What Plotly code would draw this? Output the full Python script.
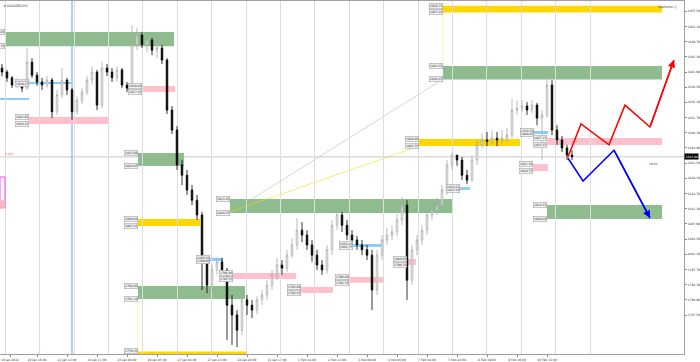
import plotly.graph_objects as go

# ---------------- data ----------------
bar_index = list(range(115))
open_ = [1842.8,1841.9,1840.6,1839.0,1839.7,1838.3,1844.1,1841.2,1839.7,1839.0,
         1840.1,1833.0,1836.8,1840.1,1837.9,1833.0,1835.6,1837.4,1840.1,1841.9,
         1834.5,1842.8,1841.9,1840.6,1842.4,1839.0,1838.3,1848.0,1850.2,1848.0,
         1849.1,1846.8,1847.3,1844.6,1833.4,1828.9,1821.1,1818.8,1815.5,1813.2,
         1809.9,1799.8,1794.2,1797.6,1799.4,1797.6,1789.7,1787.5,1784.1,1790.9,
         1789.7,1788.6,1790.9,1792.0,1794.2,1796.5,1798.7,1798.0,1800.9,1803.2,
         1806.5,1805.4,1803.2,1800.9,1798.7,1797.6,1802.1,1807.6,1809.9,1807.6,
         1805.4,1804.3,1803.2,1802.1,1800.9,1793.1,1800.9,1804.3,1805.4,1806.1,
         1808.8,1812.1,1795.3,1802.1,1804.3,1806.5,1809.9,1811.0,1812.1,1815.5,
         1821.1,1823.3,1822.2,1818.8,1817.7,1822.2,1825.6,1826.7,1826.4,1827.1,
         1826.7,1827.1,1827.8,1833.4,1833.8,1834.3,1833.4,1834.5,1831.6,1832.3,
         1839.0,1828.9,1826.7,1824.9,1823.3]
high_ = [1843.7,1842.4,1841.0,1840.6,1840.1,1847.3,1845.0,1841.9,1840.6,1841.0,
         1840.6,1837.9,1842.8,1840.6,1838.3,1836.5,1838.3,1841.0,1843.2,1842.4,
         1844.1,1843.7,1842.8,1843.2,1842.8,1839.7,1852.4,1851.8,1850.9,1850.0,
         1849.5,1848.2,1848.0,1845.0,1834.3,1829.8,1822.2,1820.0,1816.6,1814.4,
         1810.6,1800.9,1798.7,1800.3,1800.3,1798.0,1792.0,1788.6,1792.0,1792.0,
         1790.9,1791.7,1793.1,1795.3,1797.6,1800.3,1799.8,1802.1,1804.7,1809.2,
         1808.3,1806.5,1804.3,1802.1,1799.8,1803.2,1808.8,1811.0,1810.6,1808.8,
         1806.5,1805.2,1804.3,1803.2,1802.1,1802.1,1805.4,1807.0,1807.6,1810.1,
         1813.9,1813.2,1803.2,1805.4,1807.6,1811.0,1812.1,1813.7,1816.6,1822.2,
         1823.8,1823.3,1822.9,1820.0,1823.3,1826.7,1828.2,1828.5,1828.9,1828.5,
         1828.9,1829.4,1835.9,1835.6,1835.6,1835.2,1835.6,1835.0,1833.4,1841.9,
         1840.1,1830.0,1827.6,1825.6,1824.4]
low_ = [1841.0,1839.7,1838.3,1838.3,1837.4,1837.9,1840.6,1838.8,1837.9,1838.3,
        1831.6,1832.3,1836.1,1836.8,1831.2,1832.3,1834.7,1836.8,1839.2,1833.4,
        1833.8,1841.0,1839.7,1839.7,1838.3,1837.4,1837.9,1846.8,1847.3,1846.4,
        1845.7,1845.0,1843.7,1832.5,1828.0,1820.0,1816.6,1814.4,1812.1,1808.8,
        1793.1,1792.4,1793.1,1796.5,1796.5,1781.9,1780.8,1780.3,1783.0,1787.5,
        1786.8,1787.7,1789.7,1790.9,1793.1,1795.3,1796.5,1797.1,1800.3,1802.1,
        1803.8,1802.1,1799.4,1797.6,1796.5,1796.7,1800.9,1806.5,1806.1,1804.3,
        1803.2,1802.1,1800.9,1799.8,1788.6,1792.0,1799.8,1803.2,1804.3,1805.2,
        1807.6,1790.9,1794.2,1800.9,1803.2,1805.4,1808.8,1809.9,1811.0,1814.4,
        1820.0,1820.9,1817.7,1816.8,1817.3,1821.1,1824.9,1825.3,1825.6,1825.3,
        1825.8,1826.2,1827.1,1832.3,1833.0,1832.3,1832.7,1830.0,1822.2,1831.6,
        1827.8,1825.6,1824.0,1822.2,1822.2]
close_ = [1841.9,1840.6,1839.0,1839.7,1838.3,1844.1,1841.2,1839.7,1839.0,1840.1,
          1833.0,1836.8,1840.1,1837.9,1833.0,1835.6,1837.4,1840.1,1841.9,1834.5,
          1842.8,1841.9,1840.6,1842.4,1839.0,1838.3,1848.0,1850.2,1848.0,1849.1,
          1846.8,1847.3,1844.6,1833.4,1828.9,1821.1,1818.8,1815.5,1813.2,1809.9,
          1799.8,1794.2,1797.6,1799.4,1797.6,1789.7,1787.5,1784.1,1790.9,1789.7,
          1788.6,1790.9,1792.0,1794.2,1796.5,1798.7,1798.0,1800.9,1803.2,1806.5,
          1805.4,1803.2,1800.9,1798.7,1797.6,1802.1,1807.6,1809.9,1807.6,1805.4,
          1804.3,1803.2,1802.1,1800.9,1793.1,1800.9,1804.3,1805.4,1806.1,1808.8,
          1812.1,1795.3,1802.1,1804.3,1806.5,1809.9,1811.0,1812.1,1815.5,1821.1,
          1823.3,1822.2,1818.8,1817.7,1822.2,1825.6,1826.7,1826.4,1827.1,1826.7,
          1827.1,1827.8,1833.4,1833.8,1834.3,1833.4,1834.5,1831.6,1832.3,1839.0,
          1828.9,1826.7,1824.9,1823.3,1822.9]

time_tick_pos = [1.6, 7, 13, 19, 25, 31, 37, 43, 49, 55, 61, 67, 73, 79, 85, 91, 97, 103, 109]
time_tick_labels = ["19 Jan 2022", "20 Jan 16:00", "21 Jan 13:00", "24 Jan 11:00", "25 Jan 08:00",
                    "26 Jan 05:00", "27 Jan 02:00", "27 Jan 23:00", "28 Jan 20:00", "31 Jan 17:00",
                    "1 Feb 14:00", "2 Feb 11:00", "3 Feb 08:00", "4 Feb 05:00", "7 Feb 02:00",
                    "7 Feb 22:00", "8 Feb 19:00", "9 Feb 16:00", "10 Feb 13:00"]
grid_pos = [0.6, 7.5, 14.4, 21.2, 28.1, 35.0, 41.9, 48.8, 55.6, 62.5, 69.4, 76.3,
            83.2, 90.0, 96.9, 103.8, 110.7, 117.6]
price_ticks = [1855.5, 1852.1, 1848.7, 1845.3, 1841.9, 1838.5, 1835.1, 1831.7, 1828.3,
               1824.9, 1821.5, 1818.1, 1814.7, 1811.3, 1807.9, 1804.5, 1801.1, 1797.7,
               1794.3, 1790.9, 1787.5]

# zones
zone_start = [0.6, 5.4, -0.4, 5.4, 28.0, 27.2, 27.2, 27.2, 27.2, 41.6, 46.2, 59.8,
              69.4, 70.2, 81.0, 45.6, 83.4, 91.6, 106.4, 109.0, 106.2, 109.0, 88.2, 88.2]
zone_end = [34.4, 14.0, 5.4, 21.2, 34.6, 36.4, 39.6, 48.6, 48.8, 44.2, 58.8, 66.2,
            76.4, 76.0, 82.8, 90.0, 103.6, 93.6, 109.2, 132.0, 109.2, 132.0, 132.0, 132.0]
zone_top = [1850.85, 1839.70, 1836.10, 1831.85, 1838.80, 1823.80, 1809.00, 1794.00, 1779.35,
            1800.30, 1796.90, 1793.80, 1796.00, 1803.40, 1800.05, 1813.45, 1826.90, 1816.15,
            1828.70, 1827.15, 1821.30, 1812.15, 1843.25, 1856.75]
zone_bottom = [1847.70, 1839.25, 1835.65, 1830.25, 1837.45, 1820.85, 1807.45, 1791.10, 1778.00,
               1799.60, 1795.55, 1792.45, 1794.70, 1802.75, 1798.70, 1810.35, 1825.35, 1815.50,
               1828.05, 1825.55, 1819.75, 1809.00, 1840.25, 1855.25]
zone_kind = ["green", "blue", "blue", "pink", "pink", "green", "gold", "green", "gold",
             "blue", "pink", "pink", "pink", "blue", "pink", "green", "gold", "blue",
             "blue", "pink", "pink", "green", "green", "gold"]

# trend links between zones
link_x0 = [49.6, 45.6]
link_y0 = [1813.2, 1810.6]
link_x1 = [88.2, 83.4]
link_y1 = [1840.3, 1825.3]
link_kind = ["green", "gold"]
conn_x = [27.2, 88.2]
conn_y0 = [1791.1, 1855.25]
conn_y1 = [1779.0, 1843.25]

# scenarios
red_x = [113.2, 115.8, 121.4, 124.6, 129.6, 134.4]
red_y = [1822.9, 1830.3, 1825.6, 1834.5, 1829.6, 1844.6]
blue_x = [113.2, 116.2, 122.4, 129.6]
blue_y = [1822.6, 1817.5, 1824.4, 1809.2]

current_price = 1822.9
marker_bar = 14.0

# ---------------- style ----------------
colors = {"green": "#8FBC8F", "gold": "#FFD700", "pink": "#FFC0CB", "blue": "#87CEFA"}
link_colors = {"green": "rgba(143,188,143,0.6)", "gold": "rgba(255,215,0,0.7)"}
FONT = "DejaVu Sans"

fig = go.Figure()

fig.add_trace(go.Candlestick(
    x=bar_index, open=open_, high=high_, low=low_, close=close_,
    increasing=dict(line=dict(color="#a8a8a8", width=0.8), fillcolor="#ffffff"),
    decreasing=dict(line=dict(color="#000000", width=0.8), fillcolor="#000000"),
    whiskerwidth=0, showlegend=False, hoverinfo="skip"))

fig.add_trace(go.Scatter(x=red_x, y=red_y, mode="lines",
                         line=dict(color="#ff0000", width=1.5), showlegend=False, hoverinfo="skip"))
fig.add_trace(go.Scatter(x=blue_x, y=blue_y, mode="lines",
                         line=dict(color="#0000ff", width=1.5), showlegend=False, hoverinfo="skip"))
# invisible trace for label axis
fig.add_trace(go.Scatter(x=[bar_index[0]], y=[close_[0]], xaxis="x2", mode="markers",
                         marker=dict(opacity=0), showlegend=False, hoverinfo="skip"))

shapes = []
annotations = []
for s, e, t, b, k in zip(zone_start, zone_end, zone_top, zone_bottom, zone_kind):
    shapes.append(dict(type="rect", xref="x", yref="y", x0=s, x1=e, y0=b, y1=t,
                       fillcolor=colors[k], line=dict(width=0), layer="below"))
    for val in (t, b):
        annotations.append(dict(x=s, y=val, xref="x", yref="y", text=f"{val:.2f}",
                                showarrow=False, xanchor="right", yanchor="middle",
                                font=dict(family=FONT, size=3, color="#333"),
                                bgcolor="#f0f0f0", bordercolor="#9a9a9a", borderwidth=0.5,
                                borderpad=0.5))

for x0, y0, x1, y1, k in zip(link_x0, link_y0, link_x1, link_y1, link_kind):
    shapes.append(dict(type="line", xref="x", yref="y", x0=x0, y0=y0, x1=x1, y1=y1,
                       line=dict(color=link_colors[k], width=0.8), layer="below"))
for cx, a, b in zip(conn_x, conn_y0, conn_y1):
    shapes.append(dict(type="line", xref="x", yref="y", x0=cx, x1=cx, y0=a, y1=b,
                       line=dict(color="rgba(255,215,0,0.45)", width=0.8), layer="below"))

# current price line & marker line
shapes.append(dict(type="line", xref="paper", yref="y", x0=0, x1=1, y0=current_price, y1=current_price,
                   line=dict(color="#c8c8c8", width=1), layer="below"))
shapes.append(dict(type="line", xref="x", yref="paper", x0=marker_bar, x1=marker_bar, y0=0, y1=1,
                   line=dict(color="#5aa9f0", width=1), layer="below"))
# small magenta box at left edge
shapes.append(dict(type="rect", xref="x", yref="y", x0=-0.4, x1=0.6, y0=1811.5, y1=1818.4,
                   line=dict(color="#ff44ff", width=1), fillcolor="rgba(0,0,0,0)"))
shapes.append(dict(type="rect", xref="x", yref="y", x0=-0.4, x1=0.6, y0=1811.5, y1=1813.2,
                   line=dict(width=0), fillcolor="#ffb6c1"))

# arrow heads
annotations.append(dict(x=red_x[-1], y=red_y[-1], ax=red_x[-2], ay=red_y[-2], xref="x", yref="y",
                        axref="x", ayref="y", showarrow=True, arrowhead=2, arrowsize=1,
                        arrowwidth=1.5, arrowcolor="#ff0000", text=""))
annotations.append(dict(x=blue_x[-1], y=blue_y[-1], ax=blue_x[-2], ay=blue_y[-2], xref="x", yref="y",
                        axref="x", ayref="y", showarrow=True, arrowhead=2, arrowsize=1,
                        arrowwidth=1.5, arrowcolor="#0000ff", text=""))

annotations.append(dict(x=1, y=current_price, xref="paper", yref="y", text=f"{current_price:.2f}",
                        showarrow=False, xanchor="left", yanchor="middle",
                        font=dict(family=FONT, size=3, color="#ffffff"), bgcolor="#000000", borderpad=0.5))
annotations.append(dict(x=0.955, y=current_price - 0.6, xref="paper", yref="y", text="16:41",
                        showarrow=False, xanchor="center", yanchor="top",
                        font=dict(family=FONT, size=3, color="#222")))
annotations.append(dict(x=0.004, y=current_price + 0.6, xref="paper", yref="y", text="1.001",
                        showarrow=False, xanchor="left", yanchor="middle",
                        font=dict(family=FONT, size=3, color="#ff6633")))
annotations.append(dict(x=0.003, y=0.998, xref="paper", yref="paper", text="▾ XAUUSD,H1",
                        showarrow=False, xanchor="left", yanchor="top",
                        font=dict(family=FONT, size=3.5, color="#333")))
annotations.append(dict(x=0.993, y=0.993, xref="paper", yref="paper", text="SeeMeHer ⓘ",
                        showarrow=False, xanchor="right", yanchor="top",
                        font=dict(family=FONT, size=3, color="#444")))

fig.update_layout(
    width=700, height=362,
    margin=dict(l=0, r=16, t=1, b=8),
    paper_bgcolor="#ffffff", plot_bgcolor="#ffffff",
    shapes=shapes, annotations=annotations,
    boxgap=0.55,
    xaxis=dict(range=[-0.4, 136.4], rangeslider=dict(visible=False),
               tickmode="array", tickvals=grid_pos, showticklabels=False, ticks="",
               showgrid=True, gridcolor="#dcdcdc", gridwidth=1, zeroline=False,
               showline=True, linecolor="#a0a0a0", linewidth=1, mirror=True),
    xaxis2=dict(range=[-0.4, 136.4], overlaying="x", side="bottom", anchor="y",
                tickmode="array", tickvals=time_tick_pos, ticktext=time_tick_labels,
                ticks="outside", ticklen=2, tickcolor="#888", showgrid=False, zeroline=False,
                tickfont=dict(family=FONT, size=3, color="#333")),
    yaxis=dict(range=[1778.77, 1857.81], side="right", tickmode="array",
               tickvals=price_ticks, ticktext=[f"{v:.2f}" for v in price_ticks],
               ticks="outside", ticklen=2, tickcolor="#888", showgrid=False, zeroline=False,
               showline=True, linecolor="#a0a0a0", linewidth=1, mirror=True,
               tickfont=dict(family=FONT, size=3, color="#333")),
    hovermode=False,
)

fig.write_html("out.html", config={"displayModeBar": False},
               post_script="document.body.style.margin='0';document.body.style.padding='0';")
